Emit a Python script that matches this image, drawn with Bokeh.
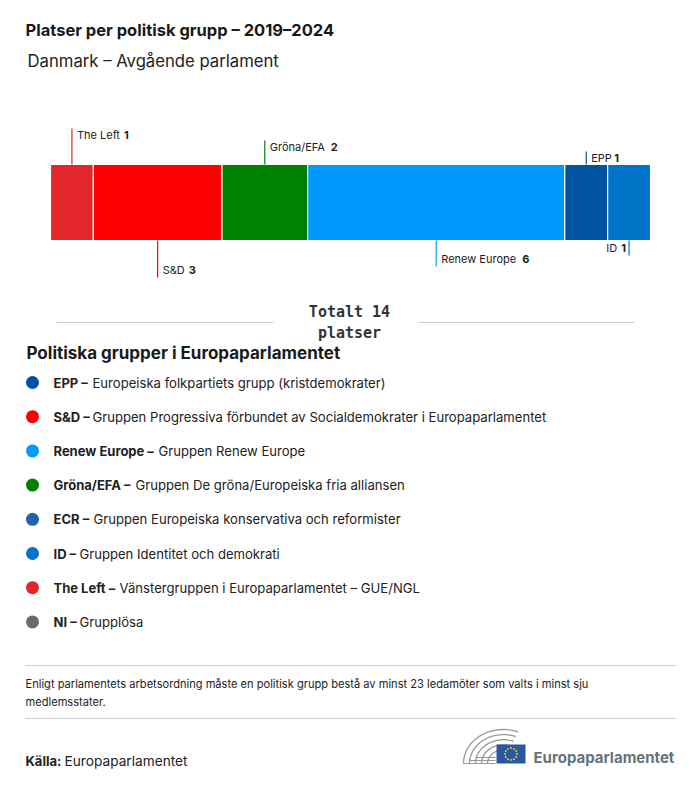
import numpy as np
from bokeh.plotting import figure
from bokeh.models import Range1d
from bokeh.core.properties import value
from bokeh.embed import file_html
from bokeh.resources import INLINE

# ---------------- data ----------------
groups = ["The Left", "S&D", "Gröna/EFA", "Renew Europe", "EPP", "ID"]
seats = [1, 3, 2, 6, 1, 1]
bar_colors = ["#E3262A", "#FF0000", "#008000", "#0099FF", "#00539F", "#0074C6"]
label_side = ["above", "below", "above", "below", "above", "below"]

legend_abbr = ["EPP", "S&D", "Renew Europe", "Gröna/EFA", "ECR", "ID", "The Left", "NI"]
legend_names = [
    "Europeiska folkpartiets grupp (kristdemokrater)",
    "Gruppen Progressiva förbundet av Socialdemokrater i Europaparlamentet",
    "Gruppen Renew Europe",
    "Gruppen De gröna/Europeiska fria alliansen",
    "Gruppen Europeiska konservativa och reformister",
    "Gruppen Identitet och demokrati",
    "Vänstergruppen i Europaparlamentet – GUE/NGL",
    "Grupplösa",
]
legend_colors = ["#00539F", "#FF0000", "#0099FF", "#008000", "#1F64A8", "#0074C6", "#E3262A", "#6B6B6B"]

total_seats = sum(seats)

FONT = "Inter"
TXT = "#222222"

# ---------------- figure ----------------
W, H = 684, 770
p = figure(width=W, height=H, x_range=Range1d(0, W), y_range=Range1d(H, 0),
           output_backend="svg", toolbar_location=None, min_border=0)
p.axis.visible = False
p.grid.visible = False
p.outline_line_color = None
p.background_fill_color = "white"
p.border_fill_color = "white"

# seat scale: bar spans page x 50 -> 650
bx0, bx1 = 50, 650
ppu = (bx1 - bx0) / total_seats
p.extra_x_ranges = {"seats": Range1d(-bx0 / ppu, total_seats + (W - bx1) / ppu)}


def txt(x, y, s, size, bold=False, color=TXT, align="left", font=FONT, **kw):
    p.text(x=[x], y=[y], text=[s], text_font=value(font), text_font_size=f"{size}px",
           text_font_style="bold" if bold else "normal", text_color=color,
           text_align=align, text_baseline="middle", **kw)


# titles
txt(25, 29, "Platser per politisk grupp – 2019–2024", 16.5, bold=True, color="#1a1a1a")
txt(27, 60, "Danmark – Avgående parlament", 16.7, color="#222222")

# stacked bar
lefts = list(np.cumsum([0] + seats[:-1]))
rights = list(np.cumsum(seats))
bar_top, bar_bot = 164, 240
p.hbar(y=[(bar_top + bar_bot) / 2] * len(seats), height=bar_bot - bar_top,
       left=lefts, right=rights, fill_color=bar_colors, line_color="white",
       line_width=1.2, x_range_name="seats")

# leader lines and labels
above_len = [36, 24, 13]
below_len = [37, 26, 15]
num_dx = {"The Left": 47, "S&D": 26, "Gröna/EFA": 61, "Renew Europe": 81, "EPP": 23}
ia = ib = 0
for g, s, l, c, side in zip(groups, seats, lefts, bar_colors, label_side):
    cx = l + s / 2
    if side == "above":
        L = above_len[ia]; ia += 1
        y0, y1 = bar_top, bar_top - L
        ty = y1 + 6
    else:
        L = below_len[ib]; ib += 1
        y0, y1 = bar_bot, bar_bot + L
        ty = y1 - 8
    p.segment(x0=[cx], y0=[y0], x1=[cx], y1=[y1], line_color=c, line_width=1.2,
              x_range_name="seats")
    if g == "ID":
        p.text(x=[cx], y=[ty], text=[str(s)], text_font=value(FONT), text_font_size="11px",
               text_font_style="bold", text_color=TXT, text_align="right",
               text_baseline="middle", x_offset=-3, x_range_name="seats")
        p.text(x=[cx], y=[ty], text=[g], text_font=value(FONT), text_font_size="11px",
               text_color=TXT, text_align="right", text_baseline="middle",
               x_offset=-12, x_range_name="seats")
    else:
        p.text(x=[cx], y=[ty], text=[g], text_font=value(FONT), text_font_size="11px",
               text_color=TXT, text_align="left", text_baseline="middle",
               x_offset=5, x_range_name="seats")
        p.text(x=[cx], y=[ty], text=[str(s)], text_font=value(FONT), text_font_size="11px",
               text_font_style="bold", text_color=TXT, text_align="left",
               text_baseline="middle", x_offset=5 + num_dx[g], x_range_name="seats")

# total
p.segment(x0=[56, 418], y0=[322, 322], x1=[273, 634], y1=[322, 322],
          line_color="#CCCCCC", line_width=1)
txt(349, 311, f"Totalt {total_seats}", 15, bold=True, align="center",
    font="DejaVu Sans Mono", color="#333333")
txt(349, 332, "platser", 15, bold=True, align="center", font="DejaVu Sans Mono",
    color="#333333")

# legend
txt(26, 352, "Politiska grupper i Europaparlamentet", 17, bold=True, color="#1a1a1a")
leg_y = [382 + 34.2 * i for i in range(len(legend_abbr))]
p.scatter(x=[32] * len(leg_y), y=leg_y, size=13, fill_color=legend_colors, line_color=None)
name_x = [92, 92, 158, 135, 93, 79, 119, 79]
for a, n, y, nx in zip(legend_abbr, legend_names, leg_y, name_x):
    txt(53, y, a + " –", 13, bold=True)
    txt(nx, y, n, 13.1)

# footer
p.segment(x0=[25, 25], y0=[665, 718], x1=[675, 675], y1=[665, 718],
          line_color="#D0D0D0", line_width=1)
txt(25, 683, "Enligt parlamentets arbetsordning måste en politisk grupp bestå av minst 23 "
    "ledamöter som valts i minst sju", 11.1)
txt(25, 701, "medlemsstater.", 11.1)
txt(25, 760, "Källa:", 13, bold=True)
txt(64, 760, "Europaparlamentet", 13.7)

# logo: hemicycle
cx, cy = 503, 763
arcs_x, arcs_y = [], []
for r in [40, 34, 28, 22, 16]:
    t = np.linspace(0.0, 0.62 * np.pi, 40)
    arcs_x.append(list(cx - r * np.cos(t) * 1.0))
    arcs_y.append(list(cy - r * 0.85 * np.sin(t)))
p.multi_line(xs=arcs_x, ys=arcs_y, line_color="#9A9A9A", line_width=1.3)
p.segment(x0=[cx - 40, cx - 34, cx - 28], y0=[763, 760, 757], x1=[cx - 8, cx - 8, cx - 8],
          y1=[763, 760, 757], line_color="#9A9A9A", line_width=1.1)
p.quad(left=[496], right=[525], top=[744], bottom=[763], fill_color="#2857A4", line_color=None)
ang = np.linspace(0, 2 * np.pi, 13)[:-1]
p.scatter(x=list(510.5 + 6 * np.cos(ang)), y=list(753.5 + 6 * np.sin(ang)), size=1.8,
          fill_color="#FFDD00", line_color=None)
txt(533, 757, "Europaparlamentet", 15, bold=True, color="#66727C")

open("out.html", "w").write(file_html(p, INLINE))
